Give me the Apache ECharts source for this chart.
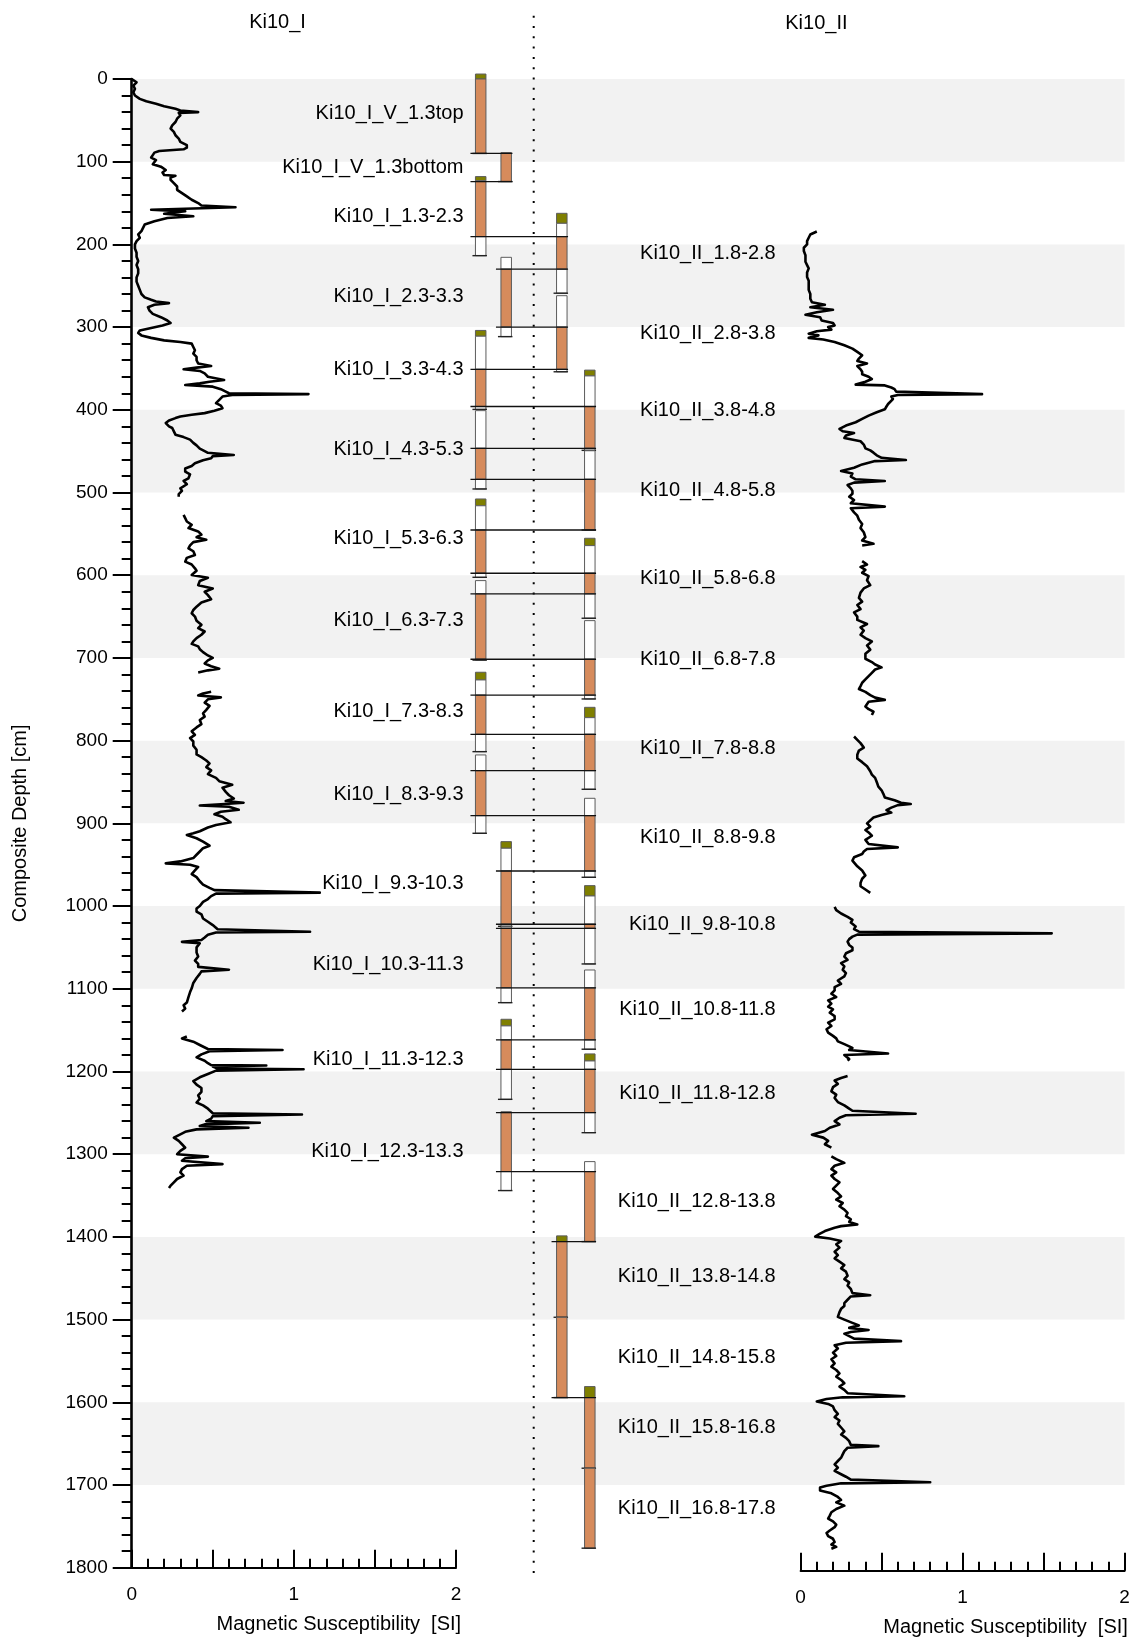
<!DOCTYPE html>
<html>
<head>
<meta charset="utf-8">
<script src="https://cdn.jsdelivr.net/npm/echarts@6/dist/echarts.min.js"></script>
<style>
  html, body { margin: 0; padding: 0; background: #fff; }
  #chart { width: 1139px; height: 1637px; }
</style>
</head>
<body>
<div id="chart"></div>
<script>
// ---------------- data ----------------
// shaded depth intervals (cm)
const shadedBands = [[0, 100], [200, 300], [400, 500], [600, 700], [800, 900],
  [1000, 1100], [1200, 1300], [1400, 1500], [1600, 1700]];

// magnetic susceptibility profile of core Ki10_I: [depth cm, MS]; null = gap
const ki10IProfile = [
  [0,0.00],[4,0.03],[8,0.01],[12,0.02],[16,0.01],[20,0.02],[24,0.05],[27,0.09],[30,0.15],[33,0.20],
  [36,0.27],[38,0.30],[40,0.41],[41,0.29],[44,0.30],[48,0.28],[52,0.27],[56,0.25],[60,0.24],[64,0.26],
  [68,0.27],[72,0.29],[76,0.30],[80,0.34],[83,0.34],[85,0.32],[87,0.17],[89,0.14],[92,0.13],[95,0.12],
  [98,0.15],[100,0.16],[103,0.13],[106,0.18],[110,0.21],[113,0.19],[116,0.20],[117,0.27],[119,0.24],[122,0.24],
  [126,0.26],[130,0.28],[134,0.28],[138,0.31],[142,0.34],[146,0.37],[150,0.41],[153,0.43],[155,0.64],[156.5,0.38],
  [158,0.12],[160,0.33],[163,0.20],[166,0.38],[168,0.22],[172,0.14],[176,0.08],[180,0.07],[184,0.06],[188,0.04],
  [192,0.05],[196,0.03],[200,0.02],[205,0.02],[210,0.03],[215,0.03],[220,0.04],[225,0.03],[230,0.04],[235,0.04],
  [240,0.03],[245,0.03],[250,0.04],[255,0.05],[260,0.06],[264,0.08],[267,0.12],[269,0.15],[271,0.23],[273,0.14],
  [276,0.10],[280,0.11],[284,0.13],[288,0.18],[292,0.22],[295,0.24],[298,0.19],[301,0.12],[304,0.05],[307,0.04],
  [310,0.06],[313,0.12],[316,0.20],[318,0.30],[320,0.37],[324,0.38],[328,0.39],[332,0.38],[336,0.40],[340,0.40],
  [344,0.41],[347,0.49],[349,0.40],[351,0.32],[353,0.42],[356,0.45],[360,0.47],[364,0.57],[366,0.48],[368,0.42],
  [370,0.33],[372,0.50],[375,0.55],[378,0.58],[380,0.60],[381,1.09],[382,0.62],[384,0.56],[388,0.54],[392,0.52],
  [395,0.55],[398,0.56],[401,0.51],[404,0.45],[406,0.37],[408,0.30],[410,0.27],[413,0.23],[416,0.21],[418,0.20],
  [420,0.23],[422,0.25],[426,0.26],[430,0.27],[433,0.32],[436,0.36],[440,0.38],[443,0.40],[447,0.42],[450,0.45],
  [452,0.47],[454.6,0.63],[456,0.50],[458.6,0.49],[461,0.44],[464.7,0.39],[468,0.37],[471,0.33],[474.7,0.33],[478,0.36],
  [482.8,0.35],[486,0.32],[490,0.34],[494.9,0.30],[498,0.31],[502,0.29],[505,0.29],
  null,
  [527,0.32],[531,0.33],[535,0.34],[539,0.37],[543,0.35],[547,0.41],[551,0.43],[554,0.40],[557,0.46],[560,0.38],
  [564,0.36],[567.5,0.35],[571,0.38],[575.5,0.39],[579,0.34],[583.6,0.33],[587,0.37],[591.6,0.39],[594.5,0.40],[599.7,0.37],
  [603,0.47],[607,0.42],[612,0.41],[616,0.50],[620,0.45],[624,0.47],[629,0.49],[633,0.43],[638,0.40],[642,0.38],
  [646,0.37],[650,0.39],[655,0.40],[660,0.43],[664,0.41],[668,0.45],[672,0.43],[676,0.40],[680,0.38],[683,0.37],
  [686,0.41],[689.4,0.42],[693,0.44],[697,0.47],[700,0.50],[703,0.47],[706.7,0.45],[710,0.49],[713,0.54],[715,0.47],
  [717.5,0.41],
  null,
  [741,0.49],[743,0.44],[745.5,0.41],[747.7,0.55],[750,0.47],[754,0.45],[758,0.48],[762.8,0.46],[767,0.44],[771,0.45],
  [775,0.42],[780,0.43],[784,0.40],[788.7,0.37],[793,0.39],[797,0.36],[801,0.38],[806,0.38],[811,0.40],[816.7,0.40],
  [820,0.43],[824,0.46],[827.5,0.48],[832,0.46],[836,0.49],[840.5,0.47],[845,0.52],[849,0.54],[853.4,0.62],[857,0.56],
  [862,0.58],[866,0.60],[870,0.63],[873,0.58],[875,0.69],[877,0.55],[878.4,0.42],[880,0.60],[883.6,0.66],[886,0.55],
  [889,0.51],[892,0.56],[895,0.58],[898.7,0.61],[902,0.52],[905,0.47],[909.5,0.42],[912,0.38],[914,0.34],[918,0.40],
  [922,0.44],[927,0.48],[930,0.44],[934,0.42],[938,0.40],[942,0.38],[946,0.30],[948.4,0.21],[950,0.36],[952.7,0.41],
  [957,0.39],[961.3,0.37],[965,0.40],[970,0.42],[974,0.44],[978,0.48],[980.7,0.51],[983.8,1.16],[985,0.52],[988,0.49],
  [991.5,0.47],[995,0.44],[1000,0.42],[1003,0.40],[1006.6,0.40],[1010,0.43],[1015,0.44],[1019,0.47],[1023,0.50],[1028,0.53],
  [1031,1.10],[1032,0.52],[1034.7,0.47],[1038,0.45],[1041,0.43],[1043.3,0.31],[1045,0.42],[1050,0.40],[1056.3,0.40],[1061,0.41],
  [1066,0.39],[1070,0.41],[1073.5,0.41],[1077,0.60],[1079,0.43],[1082,0.42],[1087,0.40],[1093,0.38],[1099.4,0.37],[1104,0.36],
  [1110,0.35],[1116.7,0.34],[1120,0.32],[1124,0.33],[1127.5,0.31],
  null,
  [1157.7,0.34],[1160,0.31],[1164,0.38],[1168,0.42],[1172.8,0.47],[1174,0.93],[1175.5,0.48],[1179.3,0.43],[1183,0.40],[1187,0.45],
  [1190,0.47],[1192.2,0.49],[1192.7,0.83],[1194,0.50],[1196.5,0.53],[1197.4,1.06],[1199,0.52],[1203,0.47],[1207,0.42],[1211.6,0.38],
  [1216,0.40],[1220,0.43],[1224.6,0.43],[1229,0.41],[1233,0.42],[1237.5,0.40],[1241,0.44],[1245,0.47],[1250.5,0.50],[1252,1.05],
  [1254,0.50],[1257,0.49],[1260,0.46],[1262,0.79],[1264,0.45],[1266,0.42],[1268,0.72],[1270,0.40],[1273,0.33],[1276,0.30],
  [1280,0.26],[1284,0.29],[1288,0.31],[1292,0.33],[1296,0.30],[1300,0.28],[1303,0.47],[1305,0.33],[1308,0.31],[1312,0.56],
  [1314,0.34],[1318,0.31],[1322,0.30],[1326,0.32],[1330,0.28],[1334,0.26],[1338,0.24],[1341,0.23]
];

// magnetic susceptibility profile of core Ki10_II: [depth cm, MS]; null = gap
const ki10IIProfile = [
  [184.4,0.10],[188,0.06],[192,0.05],[196,0.04],[200,0.04],[204,0.02],[208,0.02],[213,0.03],[218,0.03],[221,0.03],
  [225,0.04],[229,0.05],[234,0.04],[239.4,0.04],[244,0.05],[250,0.05],[255,0.05],[260,0.06],[265.6,0.06],[270,0.07],
  [273,0.15],[276,0.06],[279,0.20],[282,0.10],[285,0.03],[288,0.12],[292,0.13],[295,0.20],[298,0.21],[300,0.17],
  [303,0.19],[305,0.10],[308,0.05],[310,0.11],[313,0.05],[315,0.14],[318,0.21],[322,0.27],[326,0.32],[330,0.35],
  [334,0.38],[338,0.36],[341,0.35],[344,0.41],[347,0.35],[351,0.37],[354,0.38],[357,0.38],[360,0.42],[362.7,0.44],
  [366,0.40],[369.5,0.34],[370.5,0.52],[373,0.56],[375,0.58],[378,0.59],[381,1.12],[382,0.60],[384,0.56],[387,0.57],
  [389,0.56],[393,0.54],[396,0.53],[399.4,0.52],[403,0.47],[407,0.42],[411,0.38],[415,0.34],[419,0.28],[423,0.24],
  [426,0.26],[428,0.33],[431,0.28],[434,0.27],[438,0.37],[442,0.39],[446.6,0.40],[449,0.43],[451.8,0.45],[455,0.47],
  [458,0.50],[460.7,0.65],[462,0.46],[466,0.38],[470,0.33],[474,0.25],[477,0.32],[480.7,0.31],[484,0.34],[486,0.52],
  [488,0.33],[491,0.29],[495,0.31],[498,0.32],[501.6,0.32],[505,0.30],[509,0.33],[513,0.31],[517,0.52],[519,0.31],
  [520,0.30],[524,0.33],[528,0.35],[533,0.36],[538,0.38],[543,0.37],[548,0.39],[554,0.40],[558,0.38],[562,0.45],
  [564,0.38],
  null,
  [583,0.38],[587,0.41],[590,0.37],[593.4,0.40],[597,0.38],[601,0.42],[606,0.41],[612,0.43],[616,0.39],[621,0.37],
  [627.5,0.36],[632,0.38],[636,0.35],[641,0.37],[645,0.33],[650,0.35],[654,0.35],[659,0.41],[663,0.37],[667,0.39],
  [672,0.37],[676,0.40],[680,0.44],[685,0.41],[690,0.43],[695,0.40],[701,0.40],[705,0.44],[708,0.46],[711.4,0.50],
  [714,0.46],[718,0.44],[722,0.42],[726,0.40],[730,0.38],[734,0.37],[737.6,0.36],[741,0.40],[745,0.43],[748,0.46],
  [750.7,0.52],[753,0.42],[755,0.41],[758.6,0.40],[762,0.42],[765,0.45],[769,0.44],
  null,
  [795,0.33],[799,0.35],[803,0.37],[808.4,0.39],[812,0.36],[817,0.35],[821.5,0.35],[826,0.38],[831,0.41],[837,0.43],
  [841,0.44],[845,0.46],[850,0.47],[855.6,0.48],[860,0.50],[864,0.51],[868.7,0.52],[872,0.58],[875,0.62],[876.6,0.68],
  [878,0.60],[881,0.56],[884,0.53],[887,0.56],[890,0.50],[893,0.45],[895,0.44],[900,0.41],[904,0.43],[908,0.40],
  [911,0.42],[915,0.44],[920,0.40],[925,0.42],[929,0.60],[931,0.41],[934,0.39],[937,0.38],[941,0.33],[945,0.32],
  [947,0.32],[952,0.35],[957,0.38],[963,0.40],[967,0.38],[972,0.37],[976,0.37],[980,0.40],[984,0.43],
  null,
  [1001,0.21],[1005,0.22],[1009,0.25],[1013,0.29],[1016.7,0.32],[1020,0.31],[1024.6,0.34],[1028,0.33],[1031,0.36],[1033,1.55],
  [1034.5,0.35],[1037,0.32],[1040,0.30],[1043,0.29],[1047,0.30],[1050,0.32],[1053.4,0.32],[1057,0.28],[1061,0.27],[1065,0.29],
  [1069,0.25],[1073,0.27],[1077,0.26],[1081,0.28],[1085,0.27],[1090,0.23],[1094,0.25],[1098,0.21],[1102,0.21],[1106,0.19],
  [1110,0.22],[1114,0.17],[1118,0.19],[1121.6,0.17],[1125,0.20],[1129,0.18],[1133,0.21],[1137,0.21],[1141,0.17],[1145,0.19],
  [1149,0.16],[1153,0.17],[1157,0.20],[1160,0.22],[1163.6,0.23],[1167,0.27],[1171.5,0.32],[1174,0.30],[1178.3,0.54],[1180,0.27],
  [1182,0.26],[1185,0.30],[1187,0.29],
  null,
  [1205.6,0.29],[1208,0.25],[1211,0.21],[1215,0.23],[1219,0.20],[1224,0.19],[1228,0.22],[1232,0.21],[1237,0.23],[1241,0.27],
  [1245,0.30],[1247.5,0.32],[1251.2,0.71],[1253,0.28],[1256,0.24],[1260,0.21],[1264,0.24],[1268,0.18],[1272,0.15],[1276.4,0.07],
  [1280,0.14],[1284,0.17],[1288,0.15],[1292,0.19],
  null,
  [1302.6,0.19],[1306,0.22],[1310.5,0.27],[1314,0.21],[1318,0.19],[1322,0.22],[1326,0.19],[1330,0.21],[1334,0.24],[1338,0.22],
  [1342,0.20],[1347,0.23],[1351,0.25],[1355,0.22],[1359,0.26],[1363,0.24],[1367,0.27],[1371,0.29],[1375,0.28],[1378.7,0.31],
  [1382,0.30],[1385,0.35],[1387,0.25],[1389,0.21],[1393,0.15],[1396,0.12],[1399.7,0.09],[1402,0.18],[1405,0.25],[1409,0.22],
  [1413,0.24],[1418,0.21],[1422,0.23],[1426,0.21],[1430,0.24],[1434,0.27],[1438,0.25],[1442,0.28],[1447,0.29],[1451,0.27],
  [1455,0.30],[1459,0.29],[1463,0.31],[1468,0.32],[1470.5,0.43],[1472,0.31],[1476,0.29],[1480,0.27],[1483.6,0.27],[1487,0.25],
  [1491,0.24],[1496.7,0.23],[1500,0.27],[1504,0.32],[1507,0.36],[1510,0.30],[1512.5,0.42],[1515,0.31],[1517,0.27],[1520,0.30],
  [1523,0.33],[1526,0.62],[1528,0.28],[1531,0.21],[1535,0.23],[1540,0.20],[1544,0.22],[1548,0.19],[1553,0.21],[1557,0.19],
  [1561,0.22],[1565,0.24],[1569,0.22],[1573,0.25],[1577,0.27],[1581,0.24],[1585,0.27],[1589,0.29],[1592.7,0.64],[1594,0.26],
  [1596,0.16],[1599,0.10],[1602,0.17],[1605,0.20],[1609.5,0.21],[1614,0.23],[1618,0.21],[1622,0.24],[1626,0.23],[1630.5,0.25],
  [1635,0.27],[1639,0.25],[1643,0.28],[1647,0.30],[1651.5,0.31],[1653,0.48],[1655,0.29],[1659,0.27],[1663,0.26],[1667,0.25],
  [1671,0.23],[1675,0.21],[1679,0.23],[1683,0.21],[1687,0.25],[1690,0.28],[1693.5,0.31],[1696.6,0.80],[1698,0.25],[1701,0.16],
  [1703,0.12],[1706.6,0.12],[1710,0.19],[1714.5,0.23],[1718,0.25],[1721,0.22],[1725,0.27],[1729,0.22],[1733,0.19],[1737,0.18],
  [1740.7,0.17],[1744,0.20],[1748,0.22],[1751,0.21],[1755,0.18],[1758,0.16],[1761.7,0.17],[1765,0.20],[1769,0.21],[1772,0.19],
  [1774.8,0.22],[1777,0.19]
];

// core sections: name, column, top, olive cap end, used top, used bottom, bottom (cm)
const ki10ICores = [
  ['Ki10_I_V_1.3top',    'A', -6,     0,      0,      90,     90],
  ['Ki10_I_V_1.3bottom', 'B', 89,     null,   89,     124,    124],
  ['Ki10_I_1.3-2.3',     'A', 118,    123,    124,    190.6,  213.6],
  ['Ki10_I_2.3-3.3',     'B', 215.6,  null,   230,    300,    311.5],
  ['Ki10_I_3.3-4.3',     'A', 304,    311,    351,    396,    399.5],
  ['Ki10_I_4.3-5.3',     'A', 401,    null,   446.5,  484,    495.7],
  ['Ki10_I_5.3-6.3',     'A', 507.8,  516,    545.3,  597.6,  602.5],
  ['Ki10_I_6.3-7.3',     'A', 606.5,  null,   622.6,  701.6,  702.6],
  ['Ki10_I_7.3-8.3',     'A', 717.3,  726.6,  745,    792.3,  813.3],
  ['Ki10_I_8.3-9.3',     'A', 817.3,  null,   836.3,  890.7,  912],
  ['Ki10_I_9.3-10.3',    'B', 922.1,  930.1,  957.6,  1022,   1024.5],
  ['Ki10_I_10.3-11.3',   'B', 1025,   null,   1026.9, 1099,   1116.8],
  ['Ki10_I_11.3-12.3',   'B', 1136.9, 1144.9, 1161.9, 1197.4, 1233.7],
  ['Ki10_I_12.3-13.3',   'B', 1248.6, null,   1249.8, 1321,   1344]
];
const ki10IICores = [
  ['Ki10_II_1.8-2.8',   'C', 162.4,  174.5,  190.6,  230,    259],
  ['Ki10_II_2.8-3.8',   'C', 262,    null,   300,    351,    354],
  ['Ki10_II_3.8-4.8',   'D', 352,    359,    396,    446.5,  449],
  ['Ki10_II_4.8-5.8',   'D', 449.5,  null,   484,    545.3,  545.3],
  ['Ki10_II_5.8-6.8',   'D', 555.3,  564.2,  597.6,  622.6,  652],
  ['Ki10_II_6.8-7.8',   'D', 654.9,  null,   701.6,  745,    749.6],
  ['Ki10_II_7.8-8.8',   'D', 759.7,  772.2,  792.3,  836.3,  858.8],
  ['Ki10_II_8.8-9.8',   'D', 869.7,  null,   890.7,  957.6,  965.2],
  ['Ki10_II_9.8-10.8',  'D', 975.3,  987.8,  1022,   1026.9, 1070],
  ['Ki10_II_10.8-11.8', 'D', 1077.3, null,   1099,   1161.9, 1173.1],
  ['Ki10_II_11.8-12.8', 'D', 1178.8, 1187.3, 1197.4, 1249.8, 1274],
  ['Ki10_II_12.8-13.8', 'D', 1309,   null,   1321,   1405.7, 1405.7],
  ['Ki10_II_13.8-14.8', 'C', 1398.8, 1405.7, 1405.7, 1497.2, 1497.2],
  ['Ki10_II_14.8-15.8', 'C', 1497.2, null,   1497.2, 1594.3, 1594.3],
  ['Ki10_II_15.8-16.8', 'D', 1581,   1594.3, 1594.3, 1679.7, 1679.7],
  ['Ki10_II_16.8-17.8', 'D', 1679.7, null,   1679.7, 1776.4, 1776.4]
];

// correlation tie points: depth (cm), from column, to column
const tiePoints = [
  [90, 'A', 'B'], [124, 'A', 'B'], [190.6, 'A', 'C'], [230, 'B', 'C'], [300, 'B', 'C'],
  [351, 'A', 'C'], [396, 'A', 'D'], [446.5, 'A', 'D'], [484, 'A', 'D'], [545.3, 'A', 'D'],
  [597.6, 'A', 'D'], [622.6, 'A', 'D'], [701.6, 'A', 'D'], [745, 'A', 'D'], [792.3, 'A', 'D'],
  [836.3, 'A', 'D'], [890.7, 'A', 'D'], [957.6, 'B', 'D'], [1022, 'B', 'D'], [1026.9, 'B', 'D'],
  [1099, 'B', 'D'], [1161.9, 'B', 'D'], [1197.4, 'B', 'D'], [1249.8, 'B', 'D'], [1321, 'B', 'D'],
  [1405.7, 'C', 'D'], [1594.3, 'C', 'D']
];

// ---------------- layout & style ----------------
const FONT = "'Liberation Sans', Arial, Helvetica, sans-serif";
const TOP = 79, BOTTOM = 69.3;
const ORANGE = '#d68b5c', OLIVE = '#7f7f00', EDGE = '#5c5c5c';
const BAR_W = 10.5;
// column positions on the core-strip axis (0..13)
const columnX = { A: 1.07, B: 3.62, C: 9.18, D: 11.98 };
// right edge of the section names on the core-strip axis
const nameAnchor = { I: -0.65, II: 30.57 };

function splitSegments(profile) {
  const out = []; let cur = [];
  profile.forEach(p => {
    if (p === null) { if (cur.length) out.push(cur); cur = []; }
    else cur.push([p[1], p[0]]);
  });
  if (cur.length) out.push(cur);
  return out;
}

function coreData(cores) {
  return cores.map(c => [columnX[c[1]], c[2], c[3] === null ? c[2] : c[3], c[4], c[5], c[6]]);
}

function coreRenderer(cores, anchor) {
  return function (params, api) {
    const x = api.value(0);
    const p = [1, 2, 3, 4, 5].map(i => api.coord([x, api.value(i)]));
    const left = p[0][0] - BAR_W / 2;
    const children = [];
    const seg = (y0, y1, fill) => {
      if (y1 - y0 > 0.3) children.push({
        type: 'rect', shape: { x: left, y: y0, width: BAR_W, height: y1 - y0 },
        style: { fill: fill, stroke: EDGE, lineWidth: 1 }
      });
    };
    seg(p[0][1], p[1][1], OLIVE);
    seg(p[1][1], p[2][1], '#ffffff');
    seg(p[2][1], p[3][1], ORANGE);
    seg(p[3][1], p[4][1], '#ffffff');
    children.push({
      type: 'line', shape: { x1: left - 3, y1: p[4][1], x2: left + BAR_W + 1, y2: p[4][1] },
      style: { stroke: '#222', lineWidth: 1.4 }
    });
    const tx = api.coord([anchor, 0])[0];
    children.push({
      type: 'text', x: tx, y: (p[0][1] + p[4][1]) / 2,
      style: { text: cores[params.dataIndex][0], align: 'right', verticalAlign: 'middle',
        fill: '#000', font: '20px ' + FONT }
    });
    return { type: 'group', children: children };
  };
}

function renderTie(params, api) {
  const a = api.coord([api.value(1), api.value(0)]);
  const b = api.coord([api.value(2), api.value(0)]);
  return {
    type: 'line',
    shape: { x1: a[0] - BAR_W / 2 - 5, y1: a[1], x2: b[0] + BAR_W / 2 + 1, y2: b[1] },
    style: { stroke: '#111', lineWidth: 1.3 }
  };
}

function renderBand(params, api) {
  const a = api.coord([0, api.value(0)]);
  const b = api.coord([1, api.value(1)]);
  return { type: 'rect', shape: { x: a[0], y: a[1], width: b[0] - a[0], height: b[1] - a[1] },
    style: { fill: '#f2f2f2' } };
}

const depthAxisHidden = (g) => ({ gridIndex: g, type: 'value', inverse: true, min: 0, max: 1800, show: false });

function msAxis(g, nameShift, offset) {
  return {
    gridIndex: g, type: 'value', min: 0, max: 2, interval: 0.5, position: 'bottom', offset: offset,
    axisLine: { show: true, onZero: false, lineStyle: { color: '#000', width: 2 } },
    axisTick: { show: true, inside: true, length: 18, lineStyle: { color: '#000', width: 2 } },
    minorTick: { show: true, splitNumber: 5, length: 9, lineStyle: { color: '#000', width: 2 } },
    axisLabel: { show: true, margin: 18, color: '#000', fontSize: 19, fontFamily: FONT,
      formatter: v => (Math.abs(v - Math.round(v)) < 1e-9 ? String(Math.round(v)) : '') },
    splitLine: { show: false }, minorSplitLine: { show: false },
    name: 'Magnetic Susceptibility  [SI]', nameLocation: 'middle', nameGap: 47,
    nameTextStyle: { color: '#000', fontSize: 20, fontFamily: FONT, padding: [0, 0, 0, nameShift] }
  };
}

const lineStyle = { color: '#000', width: 2.6, join: 'round' };
const curveSeries = [];
splitSegments(ki10IProfile).forEach(seg => curveSeries.push({
  type: 'line', xAxisIndex: 1, yAxisIndex: 1, data: seg, showSymbol: false, symbol: 'none',
  lineStyle: lineStyle, z: 3, silent: true
}));
splitSegments(ki10IIProfile).forEach(seg => curveSeries.push({
  type: 'line', xAxisIndex: 3, yAxisIndex: 3, data: seg, showSymbol: false, symbol: 'none',
  lineStyle: lineStyle, z: 3, silent: true
}));

const chart = echarts.init(document.getElementById('chart'), null, { renderer: 'canvas' });
chart.setOption({
  animation: false,
  backgroundColor: '#ffffff',
  textStyle: { fontFamily: FONT },
  grid: [
    { left: 131.7, right: 14.4, top: TOP, bottom: BOTTOM, outerBoundsMode: 'none' },
    { left: 131.7, width: 324.3, top: TOP, bottom: BOTTOM, outerBoundsMode: 'none' },
    { left: 470, width: 130, top: TOP, bottom: BOTTOM, outerBoundsMode: 'none' },
    { left: 800.6, width: 324, top: TOP, bottom: BOTTOM, outerBoundsMode: 'none' }
  ],
  xAxis: [
    { gridIndex: 0, type: 'value', min: 0, max: 1, show: false },
    msAxis(1, 90, 0),
    { gridIndex: 2, type: 'value', min: 0, max: 13, show: false },
    msAxis(3, 86, 3)
  ],
  yAxis: [
    depthAxisHidden(0),
    {
      gridIndex: 1, type: 'value', inverse: true, min: 0, max: 1800, interval: 100,
      axisLine: { show: true, onZero: false, lineStyle: { color: '#000', width: 2.6 } },
      axisTick: { show: true, inside: false, length: 19, lineStyle: { color: '#000', width: 2 } },
      minorTick: { show: true, splitNumber: 5, length: 10, lineStyle: { color: '#000', width: 2 } },
      axisLabel: { show: true, margin: 24, color: '#000', fontSize: 19, fontFamily: FONT,
        formatter: v => String(v) },
      splitLine: { show: false }, minorSplitLine: { show: false },
      name: 'Composite Depth [cm]', nameLocation: 'middle', nameRotate: 90, nameGap: 101,
      nameTextStyle: { color: '#000', fontSize: 20, fontFamily: FONT }
    },
    depthAxisHidden(2),
    depthAxisHidden(3)
  ],
  graphic: [
    { type: 'text', x: 277.5, y: 22, silent: true,
      style: { text: 'Ki10_I', align: 'center', verticalAlign: 'middle', fill: '#000', font: '20px ' + FONT } },
    { type: 'text', x: 816.4, y: 23, silent: true,
      style: { text: 'Ki10_II', align: 'center', verticalAlign: 'middle', fill: '#000', font: '20px ' + FONT } },
    { type: 'line', silent: true, z: 5,
      shape: { x1: 533.7, y1: 15.7, x2: 533.7, y2: 1576 },
      style: { stroke: '#000', lineWidth: 2, lineDash: [2, 8.3] } }
  ],
  series: [
    { type: 'custom', xAxisIndex: 0, yAxisIndex: 0, z: 0, silent: true,
      renderItem: renderBand, data: shadedBands },
    ...curveSeries,
    { type: 'custom', xAxisIndex: 2, yAxisIndex: 2, z: 4, silent: true,
      renderItem: coreRenderer(ki10ICores, nameAnchor.I), data: coreData(ki10ICores) },
    { type: 'custom', xAxisIndex: 2, yAxisIndex: 2, z: 4, silent: true,
      renderItem: coreRenderer(ki10IICores, nameAnchor.II), data: coreData(ki10IICores) },
    { type: 'custom', xAxisIndex: 2, yAxisIndex: 2, z: 6, silent: true,
      renderItem: renderTie,
      data: tiePoints.map(t => [t[0], columnX[t[1]], columnX[t[2]]]) }
  ]
});
</script>
</body>
</html>
